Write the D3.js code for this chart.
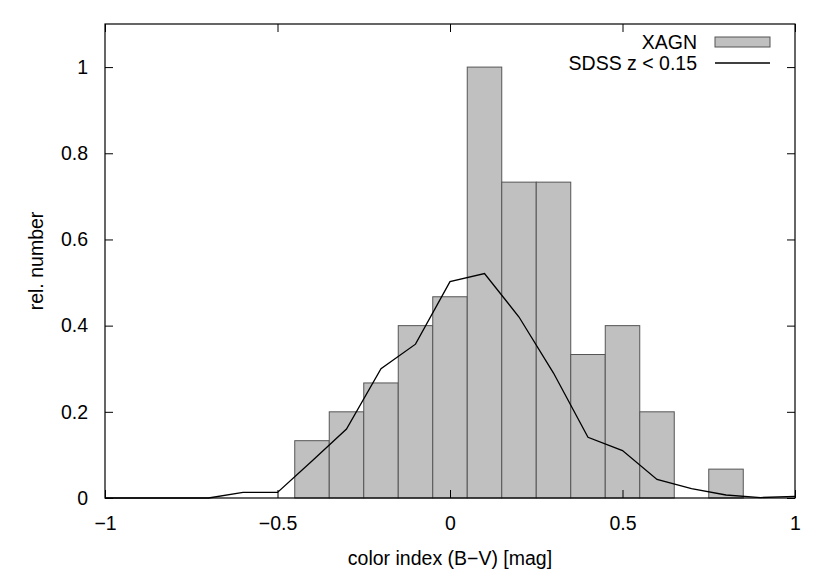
<!DOCTYPE html>
<html><head><meta charset="utf-8">
<script src="https://cdn.jsdelivr.net/npm/d3@7"></script>
<style>body{margin:0;background:#fff}text{font-family:"Liberation Sans",Arial,sans-serif}</style>
</head><body><svg id="c" width="830" height="581"></svg>
<script>
const binCenters = [-0.4,-0.3,-0.2,-0.1,0.0,0.1,0.2,0.3,0.4,0.5,0.6,0.8];
const xagnValues = [0.133,0.2,0.267,0.4,0.467,1.0,0.733,0.733,0.333,0.4,0.2,0.067];
const sdssX = [-1,-0.9,-0.8,-0.7,-0.6,-0.5,-0.4,-0.3,-0.2,-0.1,0.0,0.1,0.2,0.3,0.4,0.5,0.6,0.7,0.8,0.9,1.0];
const sdssY = [0,0,0,0,0.013,0.013,0.086,0.16,0.3,0.357,0.502,0.521,0.42,0.29,0.141,0.11,0.043,0.022,0.007,0.001,0.004];
const xTicks = [-1,-0.5,0,0.5,1];
const yTicks = [0,0.2,0.4,0.6,0.8,1];
const binWidth = 0.1;

const FS = 19.5;
const svg = d3.select("#c");
const L=105,R=795,T=24,B=498;
const x = d3.scaleLinear().domain([-1,1]).range([L,R]);
const y = d3.scaleLinear().domain([0,1.1]).range([B,T]);
const fmt = d => d3.format("")(d).replace("-","\u2212");

svg.append("g").selectAll("rect").data(binCenters).join("rect")
  .attr("x",(d)=>x(d-binWidth/2)).attr("width",(d)=>x(d+binWidth/2)-x(d-binWidth/2))
  .attr("y",(d,i)=>y(xagnValues[i])).attr("height",(d,i)=>B-y(xagnValues[i]))
  .attr("fill","#c0c0c0").attr("stroke","#555").attr("stroke-width",1);

svg.append("path").datum(sdssX.map((v,i)=>[v,sdssY[i]]))
  .attr("d",d3.line().x(d=>x(d[0])).y(d=>y(d[1])))
  .attr("fill","none").attr("stroke","#000").attr("stroke-width",1.3);

const gx = svg.append("g").attr("transform",`translate(0,${B})`)
  .call(d3.axisBottom(x).tickValues(xTicks).tickFormat(fmt).tickSizeInner(-8).tickSizeOuter(0).tickPadding(18));
const gx2 = svg.append("g").attr("transform",`translate(0,${T})`)
  .call(d3.axisTop(x).tickValues(xTicks).tickFormat("").tickSizeInner(-8).tickSizeOuter(0));
const gy = svg.append("g").attr("transform",`translate(${L},0)`)
  .call(d3.axisLeft(y).tickValues(yTicks).tickFormat(fmt).tickSizeInner(-8).tickSizeOuter(0).tickPadding(17));
const gy2 = svg.append("g").attr("transform",`translate(${R},0)`)
  .call(d3.axisRight(y).tickValues(yTicks).tickFormat("").tickSizeInner(-8).tickSizeOuter(0));
[gx,gx2,gy,gy2].forEach(g=>{
  g.attr("font-size",FS).attr("font-family","'Liberation Sans',Arial,sans-serif");
  g.select(".domain").remove();
  g.selectAll("line").attr("stroke","#000");
  g.selectAll("text").attr("fill","#000");
});
svg.append("rect").attr("x",L).attr("y",T).attr("width",R-L).attr("height",B-T)
  .attr("fill","none").attr("stroke","#000").attr("stroke-width",1.2);

svg.append("text").attr("x",(L+R)/2).attr("y",565).attr("text-anchor","middle")
  .attr("font-size",FS).text("color index (B\u2212V) [mag]");
svg.append("text").attr("transform","translate(43,261) rotate(-90)").attr("text-anchor","middle")
  .attr("font-size",FS).text("rel. number");

svg.append("text").attr("x",697).attr("y",49).attr("text-anchor","end").attr("font-size",FS).text("XAGN");
svg.append("rect").attr("x",715).attr("y",37).attr("width",55).attr("height",10)
  .attr("fill","#c0c0c0").attr("stroke","#555");
svg.append("text").attr("x",697).attr("y",70).attr("text-anchor","end").attr("font-size",FS).text("SDSS z < 0.15");
svg.append("line").attr("x1",715).attr("x2",770).attr("y1",63).attr("y2",63).attr("stroke","#000").attr("stroke-width",1.3);
</script></body></html>
